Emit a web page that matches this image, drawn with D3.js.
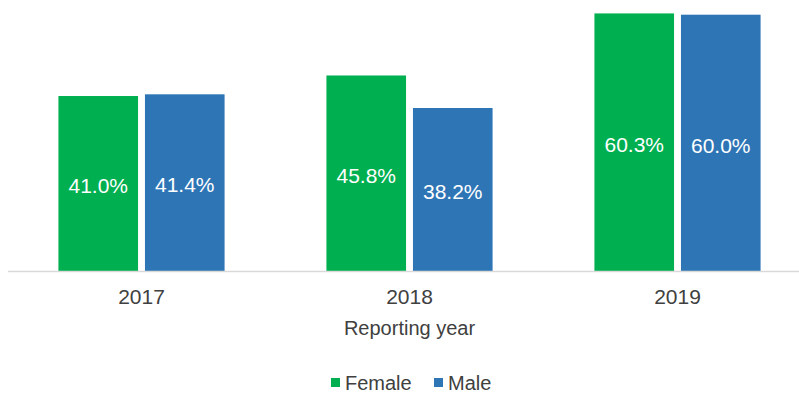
<!DOCTYPE html>
<html>
<head>
<meta charset="utf-8">
<script src="https://cdn.jsdelivr.net/npm/d3@7"></script>
<style>
  html, body { margin: 0; padding: 0; background: #ffffff; }
  svg { display: block; font-family: "Liberation Sans", Arial, sans-serif; }
</style>
</head>
<body>
<svg id="chart" width="799" height="394"></svg>
<script>
// Share by reporting year, split by sex (percent)
const years = ["2017", "2018", "2019"];
const seriesNames = ["Female", "Male"];
const femaleValues = [41.0, 45.8, 60.3];
const maleValues = [41.4, 38.2, 60.0];
const seriesColors = ["#00b050", "#2e75b6"];
const axisTitle = "Reporting year";

const svg = d3.select("#chart");

const baseY = 271.5;
const x = d3.scaleBand().domain(years).range([7.5, 811.5]).paddingInner(0.38).paddingOuter(0.19);
const y = d3.scaleLinear().domain([0, 70]).range([baseY, baseY - 70 * 4.28]);
const xs = d3.scaleBand().domain(seriesNames).range([0, x.bandwidth()]).paddingInner(0.08);

const rows = years.map((yr, i) => ({ year: yr, values: [femaleValues[i], maleValues[i]] }));

const groups = svg.selectAll("g.year").data(rows).join("g")
  .attr("class", "year")
  .attr("transform", d => `translate(${x(d.year)},0)`);

const cells = groups.selectAll("g.bar").data(d => d.values.map((v, j) => ({ name: seriesNames[j], v, j })))
  .join("g").attr("class", "bar");

cells.append("rect")
  .attr("x", d => xs(d.name))
  .attr("width", xs.bandwidth())
  .attr("y", d => y(d.v))
  .attr("height", d => y(0) - y(d.v))
  .attr("fill", d => seriesColors[d.j]);

cells.append("text")
  .attr("x", d => xs(d.name) + xs.bandwidth() / 2)
  .attr("y", d => (y(d.v) + y(0)) / 2)
  .attr("dy", "0.45em")
  .attr("text-anchor", "middle")
  .attr("fill", "#ffffff")
  .attr("font-size", 21)
  .text(d => d.v.toFixed(1) + "%");

// category axis
const xAxis = svg.append("g")
  .attr("transform", `translate(0,${baseY})`)
  .call(d3.axisBottom(x).tickSize(0).tickPadding(18));
xAxis.select(".domain").attr("stroke", "#d9d9d9").attr("stroke-width", 1.5).attr("d", "M8,0H811");
xAxis.selectAll("text").attr("font-size", 21).attr("fill", "#404040")
  .attr("font-family", "Liberation Sans, Arial, sans-serif");

svg.append("text")
  .attr("x", x("2018") + x.bandwidth() / 2)
  .attr("y", 335)
  .attr("text-anchor", "middle")
  .attr("font-size", 20)
  .attr("fill", "#404040")
  .text(axisTitle);

// legend
const legendItems = [
  { name: seriesNames[0], color: seriesColors[0], x: 331 },
  { name: seriesNames[1], color: seriesColors[1], x: 434 }
];
const lg = svg.append("g").selectAll("g").data(legendItems).join("g")
  .attr("transform", d => `translate(${d.x},0)`);
lg.append("rect").attr("x", 0).attr("y", 378).attr("width", 9).attr("height", 9).attr("fill", d => d.color);
lg.append("text").attr("x", 14).attr("y", 390).attr("font-size", 20).attr("fill", "#404040").text(d => d.name);
</script>
</body>
</html>
